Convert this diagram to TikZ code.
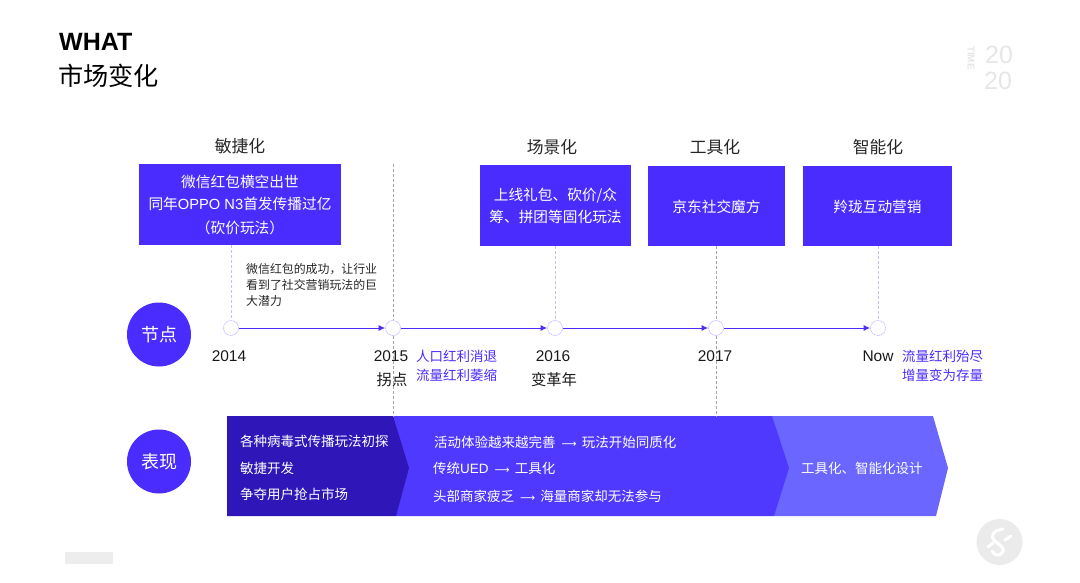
\documentclass[tikz,border=0pt]{standalone}
\usepackage{fontspec}
\usepackage{xcolor}
\usetikzlibrary{arrows.meta}
\setmainfont{Noto Sans CJK SC}
\newfontfamily\latfont{Liberation Sans}
\newfontfamily\arrfont{DejaVu Sans}
\newcommand{\lat}[1]{{\latfont #1}}
\newcommand{\lowtxt}[1]{\raisebox{-1.8pt}[0.8em][0.2em]{#1}}
\newcommand{\longto}{\hspace{6pt}{\arrfont\fontsize{10.5}{16}\selectfont ⟶}\hspace{5pt}}
\definecolor{mainblue}{HTML}{4B2CFF}
\definecolor{darkblue}{HTML}{2E16B8}
\definecolor{midblue}{HTML}{5039FF}
\definecolor{paleblue}{HTML}{6A66FF}
\definecolor{ringblue}{HTML}{C4BEFF}
\definecolor{softgray}{HTML}{E6E6E6}
\tikzset{
  boxnode/.style={fill=mainblue, text=white, inner sep=0pt, align=center, font=\fontsize{14.7}{22}\selectfont},
  headtxt/.style={text=black!85, inner sep=0pt, font=\fontsize{16.8}{18}\selectfont},
  yeartxt/.style={text=black!90, inner sep=0pt, font=\latfont\fontsize{15.5}{18}\selectfont},
  turntxt/.style={text=black!90, inner sep=0pt, font=\fontsize{15.3}{18}\selectfont},
  notetxt/.style={text=mainblue, anchor=west, inner sep=0pt, align=left, font=\fontsize{13.5}{19}\selectfont},
  bandtxt/.style={text=white, anchor=west, inner sep=0pt, font=\fontsize{13.5}{16}\selectfont},
  roundnode/.style={circle, fill=mainblue, text=white, minimum size=64pt, inner sep=0pt, font=\fontsize{18}{20}\selectfont},
  dotnode/.style={circle, draw=ringblue, line width=0.7pt, dash pattern=on 1.2pt off 0.6pt, fill=white, minimum size=15pt, inner sep=0pt},
  axisline/.style={draw=mainblue, line width=1pt, -{Latex[length=6.5pt,width=6pt]}},
  lightline/.style={draw=ringblue, densely dashed, line width=0.5pt},
  grayline/.style={draw=black!35, densely dashed, line width=0.5pt},
}
\begin{document}
\begin{tikzpicture}[x=1pt,y=-1pt]
    \useasboundingbox (0,0) rectangle (1080,582);
    % title
    \node[anchor=west, inner sep=0pt, font=\latfont\bfseries\fontsize{25}{28}\selectfont] (what) at (59,42) {WHAT};
    \node[anchor=west, inner sep=0pt, font=\fontsize{25.2}{28}\selectfont] (market) at (58,76) {市场变化};
    \node[rotate=-90, text=softgray, inner sep=0pt, font=\latfont\bfseries\fontsize{10}{10}\selectfont] (timetag) at (971,58) {TIME};
    \node[text=softgray, inner sep=0pt, font=\latfont\fontsize{25}{26}\selectfont] (yeara) at (999,54.5) {20};
    \node[text=softgray, inner sep=0pt, font=\latfont\fontsize{25}{26}\selectfont] (yearb) at (998,80.5) {20};

    % top boxes
    \node[boxnode, minimum width=202pt, minimum height=81pt] (boxwx) at (240,204.5) {\lowtxt{微信红包横空出世}\\\lowtxt{同年\lat{OPPO N3}首发传播过亿}\\[2pt]\lowtxt{（砍价玩法）}};
    \node[boxnode, minimum width=151pt, minimum height=81pt] (boxgift) at (555.5,205.5) {上线礼包、砍价/众\\筹、拼团等固化玩法};
    \node[boxnode, minimum width=137pt, minimum height=80pt] (boxjd) at (716.5,206) {\lowtxt{京东社交魔方}};
    \node[boxnode, minimum width=149pt, minimum height=80pt] (boxai) at (877.5,206) {\lowtxt{羚珑互动营销}};
    \node[headtxt] (headagile) at (240,146) {敏捷化};
    \node[headtxt] (headscene) at (552,147) {场景化};
    \node[headtxt] (headtool) at (715,147) {工具化};
    \node[headtxt] (headsmart) at (878,147) {智能化};
    \node[anchor=north west, text=black!85, inner sep=0pt, align=left, font=\fontsize{11.9}{16}\selectfont] (wxnote) at (246,263) {微信红包的成功，让行业\\看到了社交营销玩法的巨\\大潜力};

    % bands
    \fill[paleblue] (772,416) -- (933,416) -- (948,468) -- (936,516) -- (774,516) -- cycle;
    \fill[midblue] (393,416) -- (772,416) -- (789,468) -- (774,516) -- (396,516) -- cycle;
    \fill[darkblue] (227,416) -- (393,416) -- (409,468) -- (396,516) -- (227,516) -- cycle;
    \coordinate (bandtopa) at (393,416);
    \coordinate (bandtopb) at (716,416);
    \coordinate (guidetop) at (393,164);

    % timeline
    \node[dotnode] (nfour) at (231,328) {};
    \node[dotnode] (nfive) at (393,328) {};
    \node[dotnode] (nsix) at (555,328) {};
    \node[dotnode] (nseven) at (716,328) {};
    \node[dotnode] (nnow) at (878,328) {};
    \draw[axisline] (nfour) -- (nfive);
    \draw[axisline] (nfive) -- (nsix);
    \draw[axisline] (nsix) -- (nseven);
    \draw[axisline] (nseven) -- (nnow);
    \draw[lightline] (boxwx.south -| nfour) -- (nfour);
    \draw[grayline] (guidetop) -- (nfive);
    \draw[grayline] (nfive) -- (bandtopa);
    \draw[lightline] (boxgift.south -| nsix) -- (nsix);
    \draw[grayline] (boxjd.south -| nseven) -- (nseven);
    \draw[grayline] (nseven) -- (bandtopb);
    \draw[lightline] (boxai.south -| nnow) -- (nnow);

    % timeline labels
    \node[yeartxt] (ylfour) at (229,356) {2014};
    \node[yeartxt] (ylfive) at (391,356) {2015};
    \node[yeartxt] (ylsix) at (553,356) {2016};
    \node[yeartxt] (ylseven) at (715,356) {2017};
    \node[yeartxt] (ylnow) at (878,356) {Now};
    \node[turntxt] (turnpoint) at (392,380) {拐点};
    \node[turntxt] (turnyear) at (554,380) {变革年};
    \node[notetxt] (notefive) at (416,365.5) {人口红利消退\\流量红利萎缩};
    \node[notetxt] (notenow) at (902,365.5) {流量红利殆尽\\增量变为存量};

    % left circles
    \node[roundnode] (rowpoint) at (159,334.5) {节点};
    \node[roundnode] (rowshow) at (159,461.5) {表现};

    % band labels
    \node[bandtxt] (banda) at (240,441) {各种病毒式传播玩法初探};
    \node[bandtxt] (bandb) at (240,468) {敏捷开发};
    \node[bandtxt] (bandc) at (240,494) {争夺用户抢占市场};
    \node[bandtxt] (bandd) at (434,442) {活动体验越来越完善\longto 玩法开始同质化};
    \node[bandtxt] (bande) at (433,468) {传统\lat{UED}\longto 工具化};
    \node[bandtxt] (bandf) at (433,496) {头部商家疲乏\longto 海量商家却无法参与};
    \node[bandtxt] (bandg) at (801,468) {工具化、智能化设计};

    % corner marks
    \fill[black!7] (65,552) rectangle (113,564);
    \fill[black!8] (999.5,542) circle (23);
    \draw[white, line width=3pt, line cap=round] (1003,529) .. controls (994,530) and (989,536) .. (995,541) .. controls (1000,545) and (1006,549) .. (1002,553) .. controls (999,557) and (994,555) .. (992,551);
    \draw[white, line width=3pt, line cap=round] (1005,540) -- (1011,536);
    \draw[white, line width=3pt, line cap=round] (988,547) -- (993,543);
\end{tikzpicture}
\end{document}
